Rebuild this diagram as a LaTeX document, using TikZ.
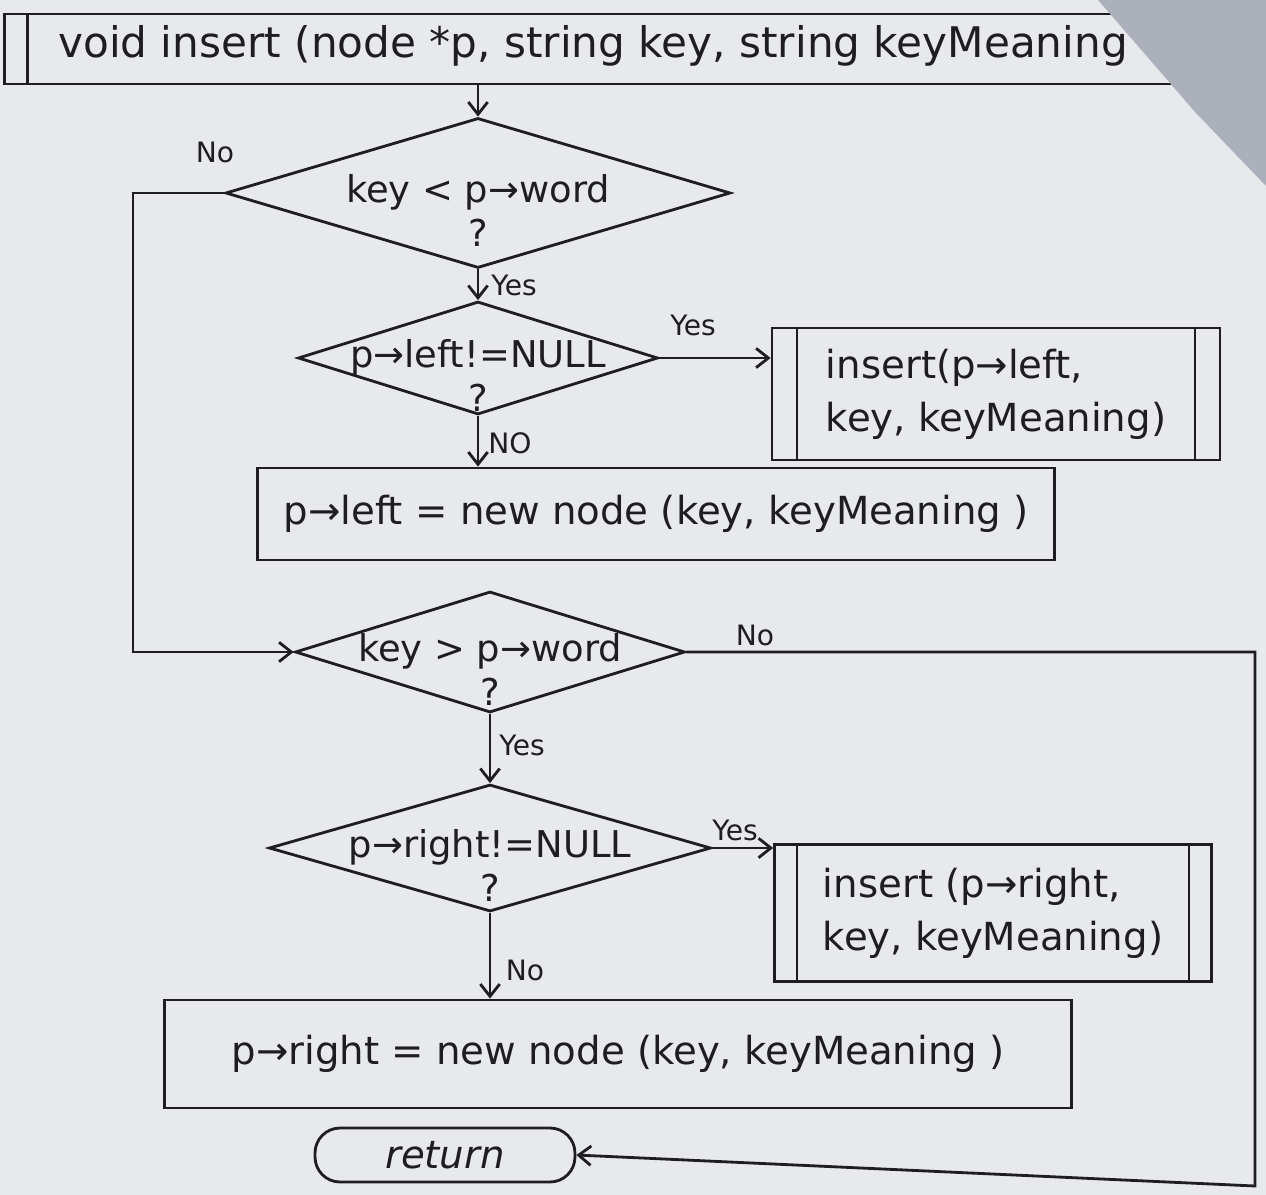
\documentclass[tikz,border=0pt]{standalone}
\usepackage{fontspec}
\setmainfont{DejaVu Sans}
\usetikzlibrary{shapes.geometric,arrows.meta}

\definecolor{ink}{RGB}{30,30,34}
\definecolor{paper}{RGB}{231,233,236}
\definecolor{backdrop}{RGB}{172,176,186}

\tikzset{
  every node/.style={text=ink},
  txt/.style={font=\fontsize{22}{30}\selectfont},
  dtxt/.style={font=\fontsize{21}{25}\selectfont},
  lbl/.style={font=\fontsize{16}{18}\selectfont, inner sep=1pt},
  decision/.style={diamond, draw=ink, line width=1.6pt, inner sep=0pt,
    label={[dtxt, align=center, yshift=-10pt]center:#1}},
  procbox/.style={rectangle, draw=ink, line width=1.6pt, txt, align=left,
    path picture={
      \draw[ink, line width=1.6pt]
        ([xshift=#1]path picture bounding box.north west) --
        ([xshift=#1]path picture bounding box.south west)
        ([xshift=-#1]path picture bounding box.north east) --
        ([xshift=-#1]path picture bounding box.south east);}},
  actbox/.style={rectangle, draw=ink, line width=1.6pt, txt, align=left},
  flow/.style={draw=ink, line width=1.6pt, -{Straight Barb[length=7pt,width=11pt]}}
}

\begin{document}
\begin{tikzpicture}[x=0.02cm, y=-0.02cm]
  \useasboundingbox (0,0) rectangle (1266,1195);
  \fill[paper] (0,0) rectangle (1266,1195);

  % function header
  \node[rectangle, draw=ink, line width=1.6pt, minimum width=24.1cm, minimum height=1.4cm,
        path picture={\draw[ink, line width=1.6pt]
          ([xshift=0.46cm]path picture bounding box.north west) --
          ([xshift=0.46cm]path picture bounding box.south west);}]
        (top) at (607,49) {};
  \node[font=\fontsize{24}{30}\selectfont, anchor=west, inner sep=0pt] (toptext) at (58,46)
        {void insert (node *p, string key, string keyMeaning};

  % edge of the sheet
  \fill[backdrop] (1098,0) -- (1195,112) -- (1266,186) -- (1266,0) -- cycle;

  % decisions
  \node[decision={key < p→word\\?}, minimum width=10.1cm, minimum height=3.0cm]
        (d1) at (478,193) {};
  \node[decision={p→left!=NULL\\?}, minimum width=7.2cm, minimum height=2.26cm]
        (d2) at (478,358) {};
  \node[decision={key > p→word\\?}, minimum width=7.8cm, minimum height=2.42cm]
        (d3) at (490,652) {};
  \node[decision={p→right!=NULL\\?}, minimum width=8.84cm, minimum height=2.54cm]
        (d4) at (490,848) {};

  % actions
  \node[procbox=0.5cm, minimum width=8.96cm, minimum height=2.64cm]
        (b2) at (996,394) {insert(p→left,\\key, keyMeaning)};
  \node[actbox, minimum width=15.94cm, minimum height=1.84cm]
        (b3) at (656,514) {p→left = new node (key, keyMeaning )};
  \node[procbox=0.45cm, minimum width=8.74cm, minimum height=2.74cm]
        (b4) at (993,913) {insert (p→right,\\key, keyMeaning)};
  \node[actbox, minimum width=18.14cm, minimum height=2.16cm]
        (b5) at (618,1054) {p→right = new node (key, keyMeaning )};

  % terminal
  \node[rectangle, draw=ink, line width=1.6pt, rounded corners=0.5cm,
        font=\fontsize{22}{30}\selectfont\itshape,
        minimum width=5.2cm, minimum height=1.08cm]
        (ret) at (445,1155) {return};

  % routing points
  \coordinate (lbus) at (133,0);
  \coordinate (rcorner) at (1255,1186);

  % connectors
  \draw[flow] (top.south -| d1.north) -- (d1.north);
  \draw[flow] (d1.west) -- (d1.west -| lbus) -- (d3.west -| lbus) -- (d3.west);
  \draw[flow] (d1.south) -- (d2.north);
  \draw[flow] (d2.east) -- (d2.east -| b2.west);
  \draw[flow] (d2.south) -- (d2.south |- b3.north);
  \draw[flow] (d3.east) -- (d3.east -| rcorner) -- (rcorner) -- (ret.east);
  \draw[flow] (d3.south) -- (d4.north);
  \draw[flow] (d4.east) -- (d4.east -| b4.west);
  \draw[flow] (d4.south) -- (d4.south |- b5.north);

  % branch labels
  \node[lbl] (l1) at (215,152) {No};
  \node[lbl] (l2) at (514,285) {Yes};
  \node[lbl] (l3) at (693,325) {Yes};
  \node[lbl] (l4) at (510,443) {NO};
  \node[lbl] (l5) at (755,635) {No};
  \node[lbl] (l6) at (522,745) {Yes};
  \node[lbl] (l7) at (735,830) {Yes};
  \node[lbl] (l8) at (525,970) {No};
\end{tikzpicture}
\end{document}
